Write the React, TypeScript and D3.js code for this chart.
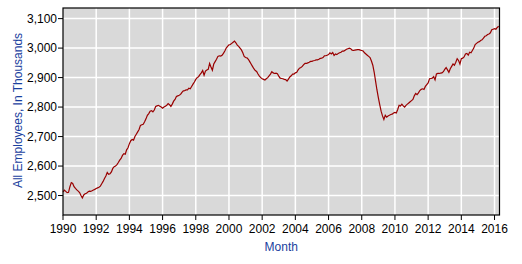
import React from "react";
import * as d3 from "d3";

const startYear = 1990;
const employees: number[] = [
  // 1990
  2512, 2518, 2514, 2510, 2511, 2530, 2544, 2541, 2530, 2524, 2519, 2515,
  // 1991
  2510, 2500, 2492, 2502, 2506, 2508, 2512, 2515, 2514, 2516, 2519, 2521,
  // 1992
  2524, 2526, 2528, 2532, 2540, 2548, 2558, 2566, 2578, 2572, 2574, 2580,
  // 1993
  2592, 2598, 2600, 2605, 2612, 2620, 2626, 2636, 2642, 2640, 2655, 2662,
  // 1994
  2676, 2686, 2690, 2688, 2700, 2708, 2716, 2724, 2738, 2740, 2742, 2750,
  // 1995
  2760, 2772, 2778, 2786, 2788, 2784, 2790, 2802, 2804, 2806, 2803, 2800,
  // 1996
  2796, 2800, 2803, 2806, 2812, 2808, 2802, 2810, 2820, 2826, 2836, 2838,
  // 1997
  2840, 2843, 2850, 2855, 2856, 2858, 2858, 2864, 2862, 2870, 2878, 2885,
  // 1998
  2894, 2900, 2903, 2910, 2916, 2924, 2908, 2922, 2926, 2928, 2948, 2936,
  // 1999
  2925, 2946, 2954, 2962, 2972, 2974, 2973, 2976, 2982, 2990, 3000, 3006,
  // 2000
  3011, 3012, 3016, 3020, 3024, 3018, 3010, 3006, 3000, 2994, 2984, 2972,
  // 2001
  2968, 2967, 2962, 2954, 2946, 2938, 2930, 2924, 2921, 2912, 2905, 2900,
  // 2002
  2896, 2894, 2892, 2896, 2900, 2906, 2912, 2920, 2916, 2914, 2915, 2913,
  // 2003
  2905, 2898, 2897, 2896, 2894, 2893, 2888, 2895, 2902, 2906, 2912, 2912,
  // 2004
  2916, 2918, 2926, 2932, 2934, 2938, 2944, 2948, 2948, 2950, 2952, 2955,
  // 2005
  2955, 2957, 2958, 2960, 2960, 2962, 2965, 2966, 2968, 2974, 2974, 2976,
  // 2006
  2978, 2984, 2980, 2985, 2975, 2980, 2978, 2982, 2984, 2986, 2990, 2990,
  // 2007
  2993, 2996, 2998, 3000, 2998, 2993, 2992, 2993, 2994, 2995, 2995, 2993,
  // 2008
  2992, 2990, 2984, 2980, 2976, 2972, 2968, 2956, 2942, 2918, 2888, 2858,
  // 2009
  2832, 2808, 2786, 2770, 2758, 2772, 2766, 2770, 2772, 2775, 2776, 2780,
  // 2010
  2782, 2780, 2792, 2806, 2804, 2810, 2804, 2800, 2806, 2810, 2814, 2818,
  // 2011
  2822, 2826, 2838, 2846, 2842, 2848, 2856, 2860, 2862, 2860, 2870, 2876,
  // 2012
  2882, 2896, 2897, 2898, 2903, 2892, 2912, 2914, 2914, 2915, 2916, 2920,
  // 2013
  2928, 2934, 2926, 2918, 2930, 2938, 2946, 2942, 2952, 2964, 2958, 2946,
  // 2014
  2964, 2966, 2970, 2980, 2982, 2976, 2986, 2984, 2992, 3000, 3012, 3016,
  // 2015
  3020, 3022, 3026, 3028, 3034, 3040, 3042, 3046, 3048, 3052, 3062, 3064,
  // 2016
  3066, 3064, 3070, 3074,
];

const yTicks = [2500, 2600, 2700, 2800, 2900, 3000, 3100];
const xTicks = [1990, 1992, 1994, 1996, 1998, 2000, 2002, 2004, 2006, 2008, 2010, 2012, 2014, 2016];
const yTitle = "All Employees, In Thousands";
const xTitle = "Month";

const W = 522;
const H = 264;
const left = 63;
const right = 499.5;
const top = 8;
const bottom = 215;

export default function App() {
  const x = d3.scaleLinear().domain([1990, 2016.3]).range([left, right]);
  const y = d3.scaleLinear().domain([2434, 3136]).range([bottom, top]);
  const pts = employees.map((v, i) => ({ t: startYear + i / 12, v }));
  const line = d3
    .line<{ t: number; v: number }>()
    .x((d) => x(d.t))
    .y((d) => y(d.v));
  const fmt = d3.format(",");
  const font = "'Liberation Sans', Arial, sans-serif";
  const blue = "#1a3f9e";

  return (
    <svg
      width={W}
      height={H}
      style={{ position: "absolute", left: 0, top: 0, background: "#fff" }}
      fontFamily={font}
    >
      <rect x={left} y={top} width={right - left} height={bottom - top} fill="#d9d9d9" />
      {yTicks.map((t) => (
        <line key={"gy" + t} x1={left} x2={right} y1={y(t)} y2={y(t)} stroke="#fff" strokeWidth={1.5} />
      ))}
      {xTicks.slice(1).map((t) => (
        <line key={"gx" + t} x1={x(t)} x2={x(t)} y1={top} y2={bottom} stroke="#fff" strokeWidth={1.5} />
      ))}
      <path d={line(pts) || ""} fill="none" stroke="#990000" strokeWidth={1.2} />
      <rect
        x={left}
        y={top}
        width={right - left}
        height={bottom - top}
        fill="none"
        stroke="#000"
        strokeWidth={1.2}
      />
      {yTicks.map((t) => (
        <g key={"ty" + t}>
          <line x1={left - 5} x2={left} y1={y(t)} y2={y(t)} stroke="#000" strokeWidth={1} />
          <text x={left - 6} y={y(t)} dy="0.35em" textAnchor="end" fontSize={12} fill="#000">
            {fmt(t)}
          </text>
        </g>
      ))}
      {xTicks.map((t) => (
        <g key={"tx" + t}>
          <line x1={x(t)} x2={x(t)} y1={bottom} y2={bottom + 5} stroke="#000" strokeWidth={1} />
          <text x={x(t)} y={233} textAnchor="middle" fontSize={12} fill="#000">
            {t}
          </text>
        </g>
      ))}
      <text
        transform={`translate(22,110.5) rotate(-90)`}
        textAnchor="middle"
        fontSize={12}
        fill={blue}
      >
        {yTitle}
      </text>
      <text x={(left + right) / 2} y={250.5} textAnchor="middle" fontSize={12} fill={blue}>
        {xTitle}
      </text>
    </svg>
  );
}
